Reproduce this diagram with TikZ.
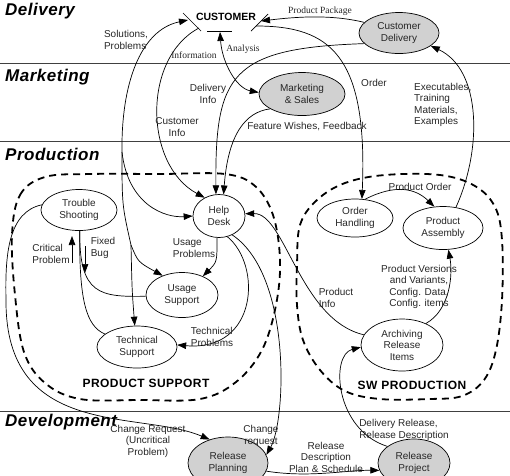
\documentclass[tikz,border=0pt]{standalone}
\usepackage{fontspec}
\setmainfont{Liberation Sans}
\newfontfamily\serifface{Liberation Serif}
\newfontfamily\headface[LetterSpace=3]{Liberation Sans}
\newfontfamily\zoneface[LetterSpace=4]{Liberation Sans}
\usetikzlibrary{arrows.meta, shapes.geometric, positioning}

\begin{document}
\begin{tikzpicture}[
    x=1pt, y=-1pt,
    every node/.style={font=\fontsize{10}{11.5}\selectfont, text=black!85},
    process/.style={
        ellipse, draw, line width=0.7pt,
        align=center, inner sep=0pt
    },
    external/.style={process, fill=black!18},
    flowlabel/.style={align=left, inner sep=0pt},
    serifnote/.style={inner sep=0pt, font=\serifface\fontsize{9.5}{11}\selectfont},
    heading/.style={anchor=west, inner sep=0pt, text=black,
        font=\headface\bfseries\itshape\fontsize{17}{19}\selectfont},
    zonetitle/.style={inner sep=0pt, text=black,
        font=\zoneface\bfseries\fontsize{12}{14}\selectfont},
    arrow/.style={-{Triangle[length=9pt,width=6.5pt]}, line width=0.7pt},
    biarrow/.style={{Triangle[length=9pt,width=6.5pt]}-{Triangle[length=9pt,width=6.5pt]}, line width=0.7pt},
    link/.style={line width=0.7pt},
    zone/.style={line width=1.8pt, dash pattern=on 7pt off 5pt},
    lane/.style={line width=0.8pt, black!75},
]
\useasboundingbox (0,0) rectangle (510,475);
\clip (0,0) rectangle (510,475);

% Swim lanes
\draw [lane] (0,63) -- (510,63);
\draw [lane] (0,141) -- (510,141);
\draw [lane] (0,411) -- (510,411);

\node (delivery) [heading] at (5,11) {Delivery};
\node (marketing) [heading] at (5,77) {Marketing};
\node (production) [heading] at (5,154) {Production};
\node (development) [heading] at (5,422) {Development};

% Dashed areas
\draw [zone] plot [smooth cycle, tension=0.6] coordinates {
    (12,235) (20,195) (45,177) (90,174) (160,174) (225,174) (255,186)
    (273,215) (280,260) (276,305) (262,350) (236,382) (200,399)
    (140,400) (80,399) (45,383) (24,352) (15,295)};
\draw [zone] plot [smooth cycle, tension=0.6] coordinates {
    (297,265) (300,225) (317,200) (345,183) (385,175) (440,175)
    (475,186) (495,207) (502,240) (502,300) (496,350) (484,380)
    (462,396) (430,399) (380,399) (345,391) (320,370) (303,340) (297,305)};

\node (pslabel) [zonetitle] at (146,383) {PRODUCT SUPPORT};
\node (swlabel) [zonetitle] at (412,385) {SW PRODUCTION};

% Customer terminator
\node (cust) [inner sep=0pt, text=black, font=\bfseries\fontsize{10.5}{12}\selectfont] at (226,17) {CUSTOMER};
\draw [link] (183,13) -- (201,31);
\draw [link] (207,31) -- (232,31);
\draw [link] (251,31) -- (268,14);
\coordinate (custleft) at (188,20);
\coordinate (custlow) at (199,28);
\coordinate (custbar) at (220,32);
\coordinate (custright) at (261,21);
\coordinate (custorder) at (256,26);

% Processes
\node (cdel) [external, minimum width=80pt, minimum height=41pt] at (399,33) {Customer\\Delivery};
\node (msales) [external, minimum width=86pt, minimum height=43pt] at (302,94) {Marketing\\\& Sales};
\node (hdesk) [process, minimum width=52pt, minimum height=43pt] at (219,216) {Help\\Desk};
\node (tshoot) [process, minimum width=76pt, minimum height=41pt] at (79,210) {Trouble\\Shooting};
\node (usupp) [process, minimum width=72pt, minimum height=45pt] at (182,295) {Usage\\Support};
\node (tsupp) [process, minimum width=80pt, minimum height=42pt] at (137,347) {Technical\\Support};
\node (ohand) [process, minimum width=76pt, minimum height=38pt] at (355,218) {Order\\Handling};
\node (passy) [process, minimum width=80pt, minimum height=43pt] at (443,228) {Product\\Assembly};
\node (arch) [process, minimum width=82pt, minimum height=52pt] at (402,345) {Archiving\\Release\\Items};
\node (rplan) [external, minimum width=80pt, minimum height=52pt] at (228,463) {Release\\Planning};
\node (rproj) [external, minimum width=72pt, minimum height=48pt] at (414,463) {Release\\Project};

% Flows to and from the customer
\coordinate (fork) at (131,245);
\coordinate (branch) at (122,152);
\draw [arrow] (fork) .. controls (122,205) .. (branch) .. controls (121,85) and (140,30) .. (custleft);
\draw [arrow] (branch) .. controls (128,205) and (165,218) .. (hdesk.west);
\draw [arrow] (fork) .. controls (138,262) .. (usupp.135);
\draw [arrow] (fork) .. controls (132,290) .. (tsupp.96);
\draw [arrow] (custlow) .. controls (142,58) and (144,165) .. (hdesk.128);
\draw [arrow] (cdel.197) .. controls (230,48) and (215,75) .. (hdesk.98);
\draw [arrow] (msales.205) .. controls (245,112) and (228,135) .. (hdesk.78);
\draw [biarrow] (custbar) .. controls (222,62) and (236,88) .. (msales.178);
\draw [arrow] (cdel.163) .. controls (330,14) and (295,17) .. (custright);
\draw [arrow] (custorder) .. controls (330,26) and (368,55) .. (ohand.70);
\draw [arrow] (passy.58) .. controls (482,150) and (482,70) .. (cdel.-22);

% SW production
\draw [arrow] (ohand.62) .. controls (395,184) and (415,188) .. (passy.112);
\draw [arrow] (arch.42) .. controls (450,310) and (453,275) .. (passy.-76);
\draw [arrow] (arch.165) .. controls (300,320) and (285,213) .. (hdesk.5);
\draw [arrow] (rproj.148) .. controls (335,430) and (330,355) .. (arch.183);
\draw [arrow] (rplan.-12) .. controls (310,478) and (345,470) .. (rproj.192);

% Product support
\draw [arrow] (tshoot.172) .. controls (8,212) and (5,255) .. (6,300)
    .. controls (5,440) and (140,410) .. (rplan.128);
\draw [arrow] (hdesk.-55) .. controls (292,275) and (286,420) .. (rplan.12);
\draw [arrow] (hdesk.-68) .. controls (262,265) and (258,352) .. (tsupp.3);
\draw [arrow] (hdesk.-95) .. controls (217,262) .. (usupp.42);
\draw [link] (tshoot.-88) .. controls (79,295) and (100,297) .. (usupp.182);
\draw [link] (tshoot.-88) .. controls (79,300) and (86,326) .. (tsupp.158);

\coordinate (critlow) at (72,263);
\coordinate (crithigh) at (72,236);
\draw [arrow] (critlow) -- (crithigh);
\coordinate (fixhigh) at (85,246);
\coordinate (fixlow) at (85,273);
\draw [arrow] (fixhigh) -- (fixlow);

% Flow labels
\node (lsol) [flowlabel] at (126,40) {Solutions,\\Problems};
\node (linfo) [serifnote] at (194,55) {Information};
\node (lanal) [serifnote] at (243,49) {Analysis};
\node (lpack) [serifnote] at (320,11) {Product Package};
\node (ldeliv) [flowlabel, align=center] at (208,94) {Delivery\\Info};
\node (lcust) [flowlabel, align=center] at (177,127) {Customer\\Info};
\node (lfeat) [flowlabel] at (307,127) {Feature Wishes, Feedback};
\node (lorder) [flowlabel] at (374,83) {Order};
\node (lexec) [flowlabel, anchor=west] at (414,105) {Executables,\\Training\\Materials,\\Examples};
\node (lporder) [flowlabel] at (420,187) {Product Order};
\node (lvers) [flowlabel, align=center] at (419,287) {Product Versions\\and Variants,\\Config. Data,\\Config. items};
\node (lpinfo) [flowlabel] at (336,298) {Product\\Info};
\node (lcrit) [flowlabel] at (51,254) {Critical\\Problem};
\node (lfix) [flowlabel] at (103,248) {Fixed\\Bug};
\node (lusage) [flowlabel] at (194,248) {Usage\\Problems};
\node (ltech) [flowlabel] at (212,337) {Technical\\Problems};
\node (lchreq) [flowlabel, align=center] at (148,441) {Change Request\\(Uncritical\\Problem)};
\node (lchreq2) [flowlabel, align=center] at (261,436) {Change\\request};
\node (lplan) [flowlabel, align=center] at (326,457) {Release\\Description\\Plan \& Schedule};
\node (ldrel) [flowlabel] at (404,430) {Delivery Release,\\Release Description};

\end{tikzpicture}
\end{document}
